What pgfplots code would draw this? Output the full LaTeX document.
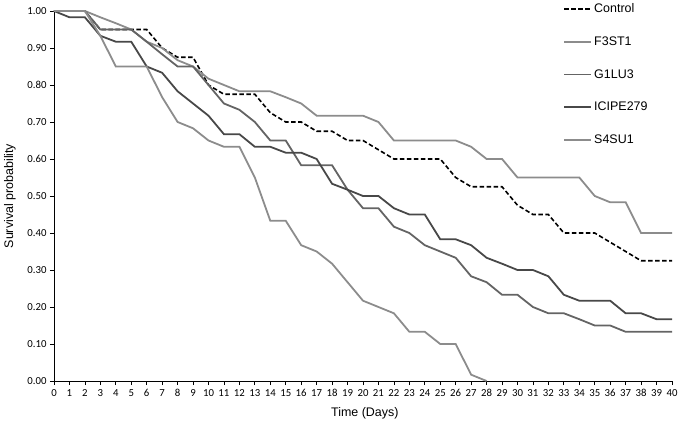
\documentclass[border=0pt]{standalone}
\usepackage{fontspec}
\setmainfont{Liberation Sans}
\newfontfamily\calfont{Carlito}
\usepackage{pgfplots}
\pgfplotsset{compat=1.18}
\definecolor{lightg}{RGB}{140,140,140}
\definecolor{midg}{RGB}{100,100,100}
\definecolor{darkg}{RGB}{72,72,72}

\pgfplotstableread{
day ctrl f3st1 g1lu3 icipe
0 1.000 1.000 1.000 1.000
1 1.000 1.000 1.000 0.983
2 1.000 1.000 1.000 0.983
3 0.950 0.983 0.950 0.933
4 0.950 0.967 0.950 0.917
5 0.950 0.950 0.950 0.917
6 0.950 0.917 0.917 0.850
7 0.900 0.900 0.883 0.833
8 0.875 0.867 0.850 0.783
9 0.875 0.850 0.850 0.750
10 0.800 0.817 0.800 0.717
11 0.775 0.800 0.750 0.667
12 0.775 0.783 0.733 0.667
13 0.775 0.783 0.700 0.633
14 0.725 0.783 0.650 0.633
15 0.700 0.767 0.650 0.617
16 0.700 0.750 0.583 0.617
17 0.675 0.717 0.583 0.600
18 0.675 0.717 0.583 0.533
19 0.650 0.717 0.517 0.517
20 0.650 0.717 0.467 0.500
21 0.625 0.700 0.467 0.500
22 0.600 0.650 0.417 0.467
23 0.600 0.650 0.400 0.450
24 0.600 0.650 0.367 0.450
25 0.600 0.650 0.350 0.383
26 0.550 0.650 0.333 0.383
27 0.525 0.633 0.283 0.367
28 0.525 0.600 0.267 0.333
29 0.525 0.600 0.233 0.317
30 0.475 0.550 0.233 0.300
31 0.450 0.550 0.200 0.300
32 0.450 0.550 0.183 0.283
33 0.400 0.550 0.183 0.233
34 0.400 0.550 0.167 0.217
35 0.400 0.500 0.150 0.217
36 0.375 0.483 0.150 0.217
37 0.350 0.483 0.133 0.183
38 0.325 0.400 0.133 0.183
39 0.325 0.400 0.133 0.167
40 0.325 0.400 0.133 0.167
}\maindata

\pgfplotstableread{
day s4su1
0 1.000
1 1.000
2 1.000
3 0.933
4 0.850
5 0.850
6 0.850
7 0.767
8 0.700
9 0.683
10 0.650
11 0.633
12 0.633
13 0.550
14 0.433
15 0.433
16 0.367
17 0.350
18 0.317
19 0.267
20 0.217
21 0.200
22 0.183
23 0.133
24 0.133
25 0.100
26 0.100
27 0.017
28 0.000
}\sdata

\begin{document}
\begin{tikzpicture}
\begin{axis}[
  name=ax,
  scale only axis,
  width=618bp, height=370bp,
  xmin=0, xmax=40, ymin=0, ymax=1,
  axis x line*=bottom, axis y line*=left,
  axis line style={black, line width=0.9pt, -},
  xtick={0,...,40},
  ytick={0,0.1,...,1.0},
  tick align=outside,
  major tick length=4bp,
  tick style={black, line width=0.8pt},
  /pgf/number format/assume math mode=true,
  tick label style={font=\calfont\fontsize{10.8}{12}\selectfont},
  yticklabel style={/pgf/number format/fixed, /pgf/number format/fixed zerofill, /pgf/number format/precision=2},
  xticklabel style={yshift=-1bp},
  label style={font=\fontsize{12.5}{15}\selectfont},
  xlabel={Time (Days)},
  ylabel={Survival probability},
  xlabel style={at={(axis description cs:0.503,-0.0865)}, anchor=center},
  ylabel style={at={(axis description cs:-0.0712,0.5)}, anchor=center, rotate=0},
  legend style={draw=none, fill=none, font=\fontsize{12.5}{15}\selectfont,
    at={(0.8240,1.026)}, anchor=north west, row sep=18.6bp,
    inner sep=0pt},
  legend cell align=left,
  legend image code/.code={\draw[#1] plot coordinates {(0bp,0bp) (13bp,0bp) (27bp,0bp)};},
  clip=false,
]
\addplot[black, line width=1.6pt, dash pattern=on 4.5bp off 2.5bp] table[x=day, y=ctrl] {\maindata};
\addlegendentry{Control}
\addplot[lightg, line width=1.8pt] table[x=day, y=f3st1] {\maindata};
\addlegendentry{F3ST1}
\addplot[midg, line width=1.8pt] table[x=day, y=g1lu3] {\maindata};
\addlegendentry{G1LU3}
\addplot[darkg, line width=1.8pt] table[x=day, y=icipe] {\maindata};
\addlegendentry{ICIPE279}
\addplot[lightg, line width=1.8pt] table[x=day, y=s4su1] {\sdata};
\addlegendentry{S4SU1}
\end{axis}
\pgfresetboundingbox
\path[use as bounding box] (ax.south west) ++(-54bp,-46bp) rectangle ++(680bp,427bp);
\end{tikzpicture}
\end{document}
